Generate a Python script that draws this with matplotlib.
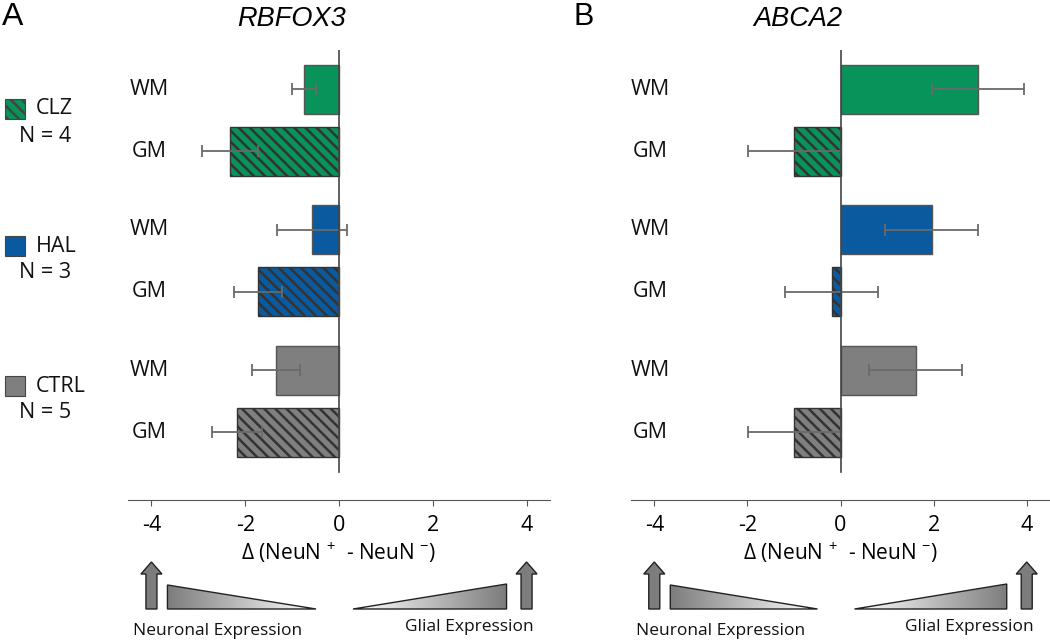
import matplotlib
matplotlib.use('Agg')
import matplotlib.pyplot as plt
import matplotlib.transforms as mtransforms
import numpy as np
from matplotlib.patches import Polygon, Rectangle

plt.rcParams['font.family'] = ['Open Sans', 'DejaVu Sans']
plt.rcParams['mathtext.fontset'] = 'custom'
plt.rcParams['mathtext.rm'] = 'Open Sans'
plt.rcParams['hatch.linewidth'] = 1.8

# data
groups = ['CLZ', 'HAL', 'CTRL']
group_n = [4, 3, 5]
regions = ['WM', 'GM']
colors = ['#07935a', '#0a5aa0', '#7f7f7f']

genes = ['RBFOX3', 'ABCA2']
# values ordered CLZ WM, CLZ GM, HAL WM, HAL GM, CTRL WM, CTRL GM
rbfox3_vals = [-0.75, -2.32, -0.58, -1.73, -1.34, -2.18]
rbfox3_err = [0.25, 0.60, 0.75, 0.52, 0.51, 0.53]
abca2_vals = [2.95, -0.99, 1.96, -0.19, 1.62, -0.99]
abca2_err = [0.99, 0.99, 1.0, 1.0, 1.0, 1.0]
xticks = [-4, -2, 0, 2, 4]

W, H = 1050, 641
fig = plt.figure(figsize=(W / 100, H / 100), dpi=100)

# bar positions: two regions per group, wider gap between groups
group_step = 2.27
ypos = [g * group_step + r for g in range(len(groups)) for r in range(len(regions))]
bar_colors = [colors[g] for g in range(len(groups)) for r in range(len(regions))]
hatches = [None if r == 0 else '\\\\\\' for g in range(len(groups)) for r in range(len(regions))]


def fr(x0, y0, x1, y1):
    return [x0 / W, 1 - y1 / H, (x1 - x0) / W, (y1 - y0) / H]


ax_a = fig.add_axes(fr(128, 50, 550, 500))
ax_b = fig.add_axes(fr(631, 50, 1050, 500))
panels = [(ax_a, rbfox3_vals, rbfox3_err, 0.05), (ax_b, abca2_vals, abca2_err, 0.045)]

for ax, vals, errs, lab_x in panels:
    for y, v, e, c, h in zip(ypos, vals, errs, bar_colors, hatches):
        ax.barh(y, v, height=0.79, color=c, edgecolor='#333333' if h else '#555555',
                linewidth=1.0, hatch=h, zorder=2)
        ax.errorbar(v, y, xerr=e, fmt='none', ecolor='#6a6a6a', elinewidth=1.3,
                    capsize=4, capthick=1.3, zorder=3)
    trans = mtransforms.blended_transform_factory(ax.transAxes, ax.transData)
    for y, r in zip(ypos, regions * len(groups)):
        ax.text(lab_x, y, r, transform=trans, ha='center', va='center',
                fontsize=15.5, color='#111111')
    ax.set_xlim(-4.5, 4.5)
    ax.set_ylim(6.63, -0.63)
    ax.axvline(0, ymin=0.062, ymax=1, color='#444444', lw=1.2, zorder=4)
    for s in ['top', 'right', 'left']:
        ax.spines[s].set_visible(False)
    ax.spines['bottom'].set_color('#555555')
    ax.set_yticks([])
    ax.set_xticks(xticks)
    ax.set_xticklabels([str(t) for t in xticks])
    ax.tick_params(axis='x', direction='out', length=4, color='#555555',
                   labelsize=15.5, pad=7)
    ax.set_xlabel(r'Δ (NeuN $^{+}$  - NeuN $^{-}$)', fontsize=15, labelpad=3)
    ax.patch.set_alpha(0)

# titles and panel letters
fig.text(292 / W, 1 - 19 / H, genes[0], fontsize=19.5, style='italic',
         family='Liberation Sans', ha='center', va='center')
fig.text(798 / W, 1 - 19 / H, genes[1], fontsize=19.5, style='italic',
         family='Liberation Sans', ha='center', va='center')
fig.text(2 / W, 1 - 17 / H, 'A', fontsize=23, family='Liberation Sans', va='center')
fig.text(574 / W, 1 - 17 / H, 'B', fontsize=22, family='Liberation Sans', va='center')

# overlay in pixel coordinates for legend and expression cues
ov = fig.add_axes([0, 0, 1, 1])
ov.set_xlim(0, W)
ov.set_ylim(H, 0)
ov.axis('off')
ov.patch.set_alpha(0)

legend_y = [109, 246, 386]
for g, (name, n, c, ly) in enumerate(zip(groups, group_n, colors, legend_y)):
    ov.add_patch(Rectangle((5, ly - 10), 20, 20, facecolor=c, edgecolor='#444444',
                           lw=0.8, hatch='\\\\\\' if g == 0 else None))
    ov.text(36, ly, name, fontsize=15.5, va='center', ha='left', color='#111111')
    ov.text(19, ly + 27, f'N = {n}', fontsize=15.5, va='center', ha='left', color='#111111')


def to_px(ax, x):
    return ax.transData.transform((x, 0))[0]


grad = np.linspace(0, 1, 256).reshape(1, -1)
for ax in [ax_a, ax_b]:
    x_lo = to_px(ax, -4)
    x_hi = to_px(ax, 4)
    x0 = to_px(ax, 0)
    # block arrows
    for xc in [x_lo, x_hi]:
        arrow = Polygon([(xc - 5.5, 609), (xc - 5.5, 574), (xc - 10.5, 574), (xc, 562),
                         (xc + 10.5, 574), (xc + 5.5, 574), (xc + 5.5, 609)],
                        closed=True, facecolor='#7d7d7d', edgecolor='#222222', lw=1.0)
        ov.add_patch(arrow)
    # gradient wedges
    tl = Polygon([(x_lo + 16, 585), (x_lo + 16, 609), (x0 - 23, 609)], closed=True,
                 facecolor='none', edgecolor='#222222', lw=1.0, zorder=3)
    tr = Polygon([(x0 + 14, 609), (x_hi - 20, 609), (x_hi - 20, 584)], closed=True,
                 facecolor='none', edgecolor='#222222', lw=1.0, zorder=3)
    ov.add_patch(tl)
    ov.add_patch(tr)
    im1 = ov.imshow(grad, cmap='gray', vmin=-0.95, vmax=1.0, aspect='auto',
                    extent=(x_lo + 16, x0 - 23, 609, 585), zorder=1,
                    interpolation='bilinear')
    im1.set_clip_path(tl)
    im2 = ov.imshow(grad[:, ::-1], cmap='gray', vmin=-0.95, vmax=1.0, aspect='auto',
                    extent=(x0 + 14, x_hi - 20, 609, 584), zorder=1,
                    interpolation='bilinear')
    im2.set_clip_path(tr)
    ov.text(x_lo + 66, 631, 'Neuronal Expression', fontsize=12.5, ha='center',
            va='center', color='#111111')
    ov.text(x_hi - 57, 627, 'Glial Expression', fontsize=12.5, ha='center',
            va='center', color='#111111')

ov.set_xlim(0, W)
ov.set_ylim(H, 0)

fig.savefig('out.png', dpi=100)
